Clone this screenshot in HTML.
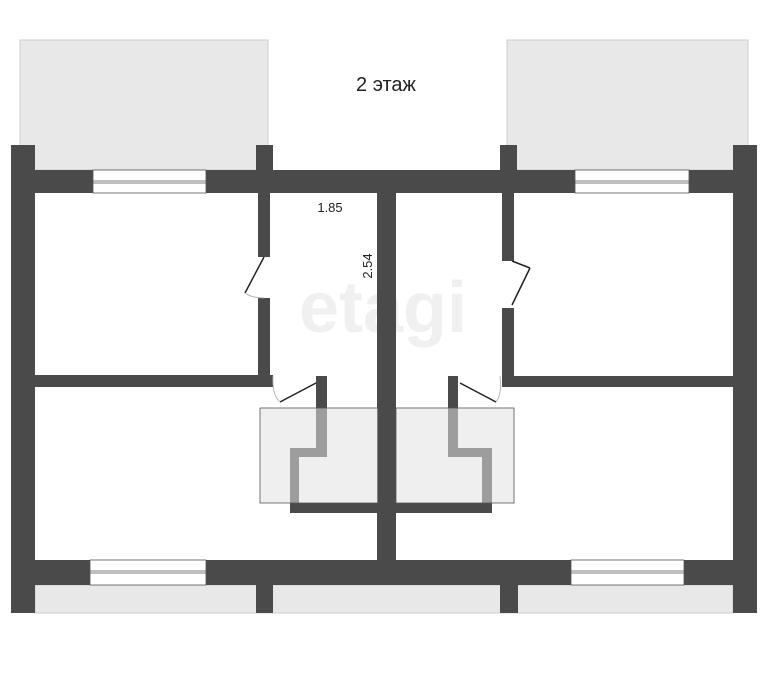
<!DOCTYPE html><html><head><style>body{margin:0;background:#fff}</style></head><body>
<svg width="768" height="688" xmlns="http://www.w3.org/2000/svg" font-family="Liberation Sans, sans-serif">
<rect width="768" height="688" fill="#fff"/>
<rect x="20" y="40" width="248" height="130" fill="#e8e8e8" stroke="#ccc"/>
<rect x="507" y="40" width="241" height="130" fill="#e8e8e8" stroke="#ccc"/>
<rect x="35" y="585" width="698" height="28" fill="#e8e8e8" stroke="#ccc"/>
<text x="386" y="91" font-size="20" text-anchor="middle" fill="#222">2 этаж</text>
<text x="383" y="332" font-size="72" text-anchor="middle" fill="#f0f0f0" font-weight="bold">etagi</text>
<g fill="#4a4a4a">
<rect x="11" y="145" width="24" height="468"/>
<rect x="733" y="145" width="24" height="468"/>
<rect x="11" y="170" width="746" height="23"/>
<rect x="11" y="560" width="746" height="25"/>
<rect x="256" y="145" width="17" height="25"/>
<rect x="500" y="145" width="17" height="25"/>
<rect x="256" y="585" width="17" height="28"/>
<rect x="500" y="585" width="18" height="28"/>
<rect x="258" y="193" width="12" height="64"/>
<rect x="258" y="298" width="12" height="89"/>
<rect x="35" y="375" width="238" height="12"/>
<rect x="502" y="193" width="12" height="68"/>
<rect x="502" y="308" width="12" height="79"/>
<rect x="502" y="376" width="231" height="11"/>
<rect x="377" y="193" width="19" height="367"/>
<rect x="316" y="376" width="11" height="81"/>
<rect x="290" y="448" width="37" height="9"/>
<rect x="290" y="448" width="9" height="65"/>
<rect x="290" y="503" width="88" height="10"/>
<rect x="448" y="376" width="10" height="81"/>
<rect x="448" y="448" width="44" height="9"/>
<rect x="482" y="448" width="10" height="65"/>
<rect x="396" y="503" width="96" height="10"/>
</g>
<g fill="#fff" stroke="#555" stroke-width="0.8">
<rect x="93" y="170" width="113" height="23"/><line x1="93" y1="181" x2="206" y2="181"/><line x1="93" y1="183" x2="206" y2="183"/>
<rect x="575" y="170" width="114" height="23"/><line x1="575" y1="181" x2="689" y2="181"/><line x1="575" y1="183" x2="689" y2="183"/>
<rect x="90" y="560" width="116" height="25"/><line x1="90" y1="571" x2="206" y2="571"/><line x1="90" y1="573" x2="206" y2="573"/>
<rect x="571" y="560" width="113" height="25"/><line x1="571" y1="571" x2="684" y2="571"/><line x1="571" y1="573" x2="684" y2="573"/>
</g>
<g fill="rgba(225,225,225,0.55)" stroke="#555" stroke-width="0.8">
<rect x="260" y="408" width="118" height="95"/>
<rect x="396" y="408" width="118" height="95"/>
</g>
<g stroke="#222" stroke-width="1.5" fill="none">
<line x1="264" y1="257" x2="245" y2="293"/>
<line x1="512" y1="261" x2="530" y2="268"/><line x1="530" y1="268" x2="512" y2="305"/>
<line x1="316" y1="383" x2="280" y2="402"/>
<line x1="460" y1="383" x2="496" y2="402"/>
</g>
<g stroke="#aaa" stroke-width="0.8" fill="none">
<path d="M245 293 Q252 298 264 298"/>
<path d="M273 376 Q272 395 280 402"/>
<path d="M500 376 Q502 395 496 402"/>
</g>
<text x="330" y="212" font-size="13" text-anchor="middle" fill="#222">1.85</text>
<text transform="translate(372,266) rotate(-90)" font-size="13" text-anchor="middle" fill="#222">2.54</text>
</svg>
</body></html>
